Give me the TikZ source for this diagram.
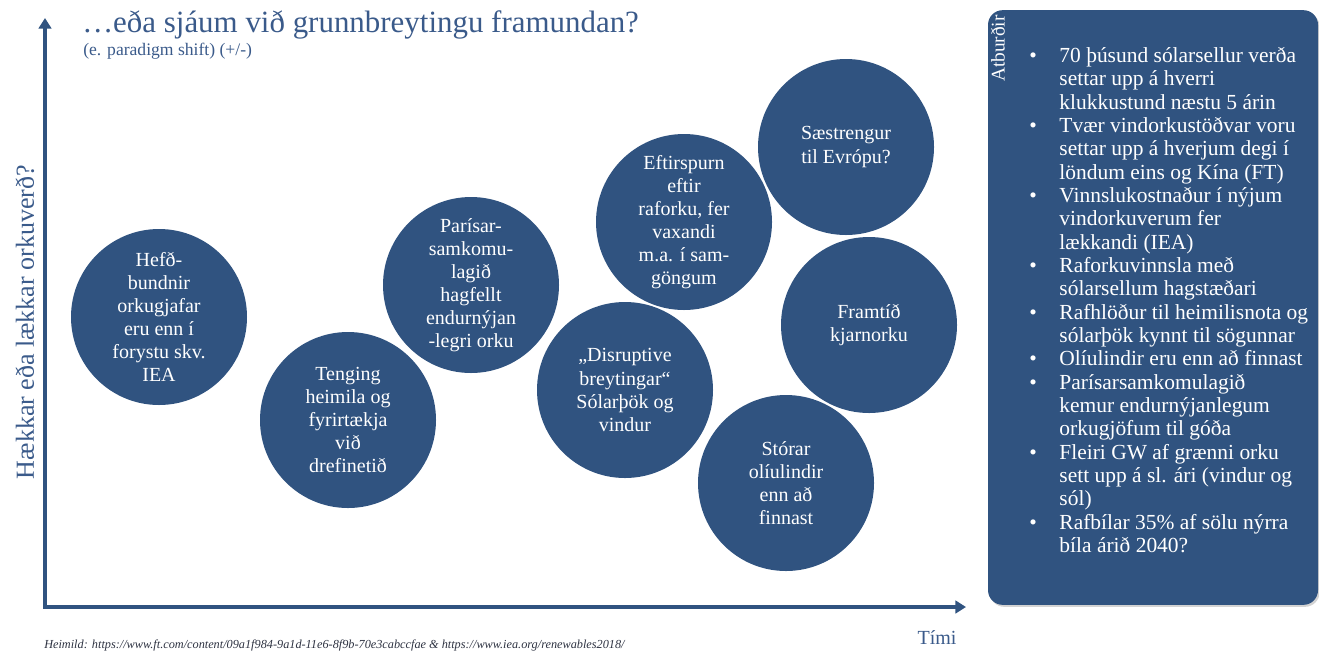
\documentclass[tikz,border=0pt]{standalone}
\usepackage{fontspec}
\setmainfont{Liberation Serif}
\usetikzlibrary{arrows.meta,shadows}
\definecolor{bubblefill}{RGB}{48,83,128}
\definecolor{ink}{RGB}{58,90,138}
\definecolor{notegray}{RGB}{45,50,65}
\begin{document}
\begin{tikzpicture}[x=0.75pt,y=-0.75pt,
  bubble/.style={circle,fill=bubblefill,minimum size=132pt,inner sep=0pt,
    text=white,align=center,font=\fontsize{15}{17.3}\selectfont},
  axisline/.style={draw=bubblefill,line width=2.4pt,line join=miter,
    {Triangle[length=8pt,width=9.5pt]}-{Triangle[length=8pt,width=9.5pt]}},
  panelbox/.style={fill=bubblefill,rounded corners=11pt,minimum width=247.5pt,
    minimum height=446pt,inner sep=0pt,
    drop shadow={shadow xshift=1.2pt,shadow yshift=-1.5pt,opacity=0.35}},
  inktext/.style={text=ink,inner sep=0pt}]
\useasboundingbox (0,0) rectangle (1319,651);

% title and subtitle
\node[inktext,anchor=west,font=\fontsize{23.2}{28}\selectfont] (title) at (82,25)
  {…eða sjáum við grunnbreytingu framundan?};
\node[inktext,anchor=west,font=\fontsize{13.2}{15}\selectfont] (subtitle) at (83,51)
  {(e. paradigm shift) (+/-)};

% axes
\coordinate (ytip) at (45,18);
\coordinate (origin) at (45,607);
\coordinate (xtip) at (966,607);
\draw[axisline] (ytip) -- (origin) -- (xtip);
\node[inktext,rotate=90,font=\fontsize{19.5}{22}\selectfont] (ylabel) at (25,322)
  {Hækkar eða lækkar orkuverð?};
\node[inktext,font=\fontsize{15}{18}\selectfont] (xlabel) at (937,638) {Tími};

% source note
\node[anchor=west,inner sep=0pt,text=notegray,font=\itshape\fontsize{9.2}{11}\selectfont] (source) at (44,645)
  {Heimild: https://www.ft.com/content/09a1f984-9a1d-11e6-8f9b-70e3cabccfae \& https://www.iea.org/renewables2018/};

% bubbles
\node[bubble] (b1) at (159,317) {Hefð-\\bundnir\\orkugjafar\\eru enn í\\forystu skv.\\IEA};
\node[bubble] (b2) at (348,420) {Tenging\\heimila og\\fyrirtækja\\við\\drefinetið};
\node[bubble] (b3) at (471,285) {Parísar-\\samkomu-\\lagið\\hagfellt\\endurnýjan\\-legri orku};
\node[bubble] (b4) at (625,390) {„Disruptive\\breytingar“\\Sólarþök og\\vindur};
\node[bubble] (b5) at (684,222) {Eftirspurn\\eftir\\raforku, fer\\vaxandi\\m.a. í sam-\\göngum};
\node[bubble] (b6) at (846,147) {Sæstrengur\\til Evrópu?};
\node[bubble] (b7) at (869,325) {Framtíð\\kjarnorku};
\node[bubble] (b8) at (786,483) {Stórar\\olíulindir\\enn að\\finnast};

% events panel
\node[panelbox] (panel) at (1153,307.5) {};
\node[rotate=90,anchor=east,text=white,inner sep=0pt,font=\fontsize{14.5}{16}\selectfont] (paneltitle)
  at (998,15) {Atburðir};
\node[anchor=north west,text=white,inner sep=0pt,font=\fontsize{16.1}{17.5}\selectfont] (events) at (1029,46)
  {\begin{tabular}{@{}l@{\hspace{17pt}}l@{}}
  • & 70 þúsund sólarsellur verða\\
    & settar upp á hverri\\
    & klukkustund næstu 5 árin\\
  • & Tvær vindorkustöðvar voru\\
    & settar upp á hverjum degi í\\
    & löndum eins og Kína (FT)\\
  • & Vinnslukostnaður í nýjum\\
    & vindorkuverum fer\\
    & lækkandi (IEA)\\
  • & Raforkuvinnsla með\\
    & sólarsellum hagstæðari\\
  • & Rafhlöður til heimilisnota og\\
    & sólarþök kynnt til sögunnar\\
  • & Olíulindir eru enn að finnast\\
  • & Parísarsamkomulagið\\
    & kemur endurnýjanlegum\\
    & orkugjöfum til góða\\
  • & Fleiri GW af grænni orku\\
    & sett upp á sl. ári (vindur og\\
    & sól)\\
  • & Rafbílar 35\% af sölu nýrra\\
    & bíla árið 2040?
  \end{tabular}};
\end{tikzpicture}
\end{document}
